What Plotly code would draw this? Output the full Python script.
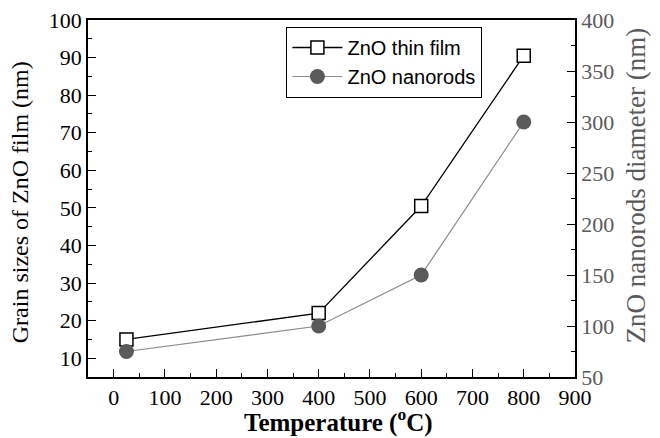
import plotly.graph_objects as go

temperature = [25, 400, 600, 800]
film_grain = [15, 22, 50.5, 90.5]
nanorod_diam = [75, 100, 150, 300]

x_ticks = [0, 100, 200, 300, 400, 500, 600, 700, 800, 900]
y_ticks = [10, 20, 30, 40, 50, 60, 70, 80, 90, 100]
y2_ticks = [50, 100, 150, 200, 250, 300, 350, 400]

gray = "#5a5a5a"
serif = "Liberation Serif, Times New Roman, serif"

fig = go.Figure()
fig.add_trace(go.Scatter(
    x=temperature, y=film_grain, name="ZnO thin film",
    mode="lines+markers",
    line=dict(color="black", width=1.3),
    marker=dict(symbol="square", size=13, color="white",
                line=dict(color="black", width=1.5)),
))
fig.add_trace(go.Scatter(
    x=temperature, y=nanorod_diam, name="ZnO nanorods", yaxis="y2",
    mode="lines+markers",
    line=dict(color="#8a8a8a", width=1.2),
    marker=dict(symbol="circle", size=15, color=gray,
                line=dict(color=gray, width=0)),
))

fig.add_annotation(
    text="<b>Temperature (<sup>o</sup>C)</b>",
    xref="paper", yref="paper", x=0.515, y=-0.123,
    xanchor="center", yanchor="middle", showarrow=False,
    font=dict(family=serif, size=25, color="black"),
)
fig.add_annotation(
    text="Grain sizes of ZnO film (nm)", textangle=-90,
    xref="paper", yref="paper", x=-0.138, y=0.489,
    xanchor="center", yanchor="middle", showarrow=False,
    font=dict(family=serif, size=24, color="black"),
)
fig.add_annotation(
    text="ZnO nanorods diameter (nm)", textangle=-90,
    xref="paper", yref="paper", x=1.125, y=0.536,
    xanchor="center", yanchor="middle", showarrow=False,
    font=dict(family=serif, size=27, color=gray),
)

fig.update_layout(
    width=660, height=438,
    margin=dict(l=88, r=85, t=20, b=61),
    paper_bgcolor="white", plot_bgcolor="white",
    showlegend=True,
    legend=dict(
        x=0.407, y=0.981, xanchor="left", yanchor="top",
        bordercolor="black", borderwidth=1.2, bgcolor="white",
        font=dict(family="Liberation Sans, Arial, sans-serif", size=20, color="black"),
        itemwidth=50, tracegroupgap=0,
    ),
    xaxis=dict(
        range=[-50, 900], tickvals=x_ticks,
        ticks="inside", ticklen=8, tickwidth=1.3, tickcolor="black",
        minor=dict(ticks="inside", dtick=50, ticklen=4, tickwidth=1.2, tickcolor="black"),
        showline=True, linecolor="black", linewidth=1.5, mirror=True,
        showgrid=False, zeroline=False, automargin=False,
        tickfont=dict(family=serif, size=22, color="black"),
    ),
    yaxis=dict(
        range=[5, 100], tickvals=y_ticks,
        ticks="inside", ticklen=8, tickwidth=1.3, tickcolor="black",
        minor=dict(ticks="inside", dtick=5, tick0=5, ticklen=4, tickwidth=1.2, tickcolor="black"),
        showline=True, linecolor="black", linewidth=1.5,
        showgrid=False, zeroline=False, automargin=False,
        tickfont=dict(family=serif, size=22, color="black"),
    ),
    yaxis2=dict(
        range=[50, 400], tickvals=y2_ticks, overlaying="y", side="right",
        ticks="inside", ticklen=8, tickwidth=1.3, tickcolor="black",
        minor=dict(ticks="inside", dtick=25, ticklen=4, tickwidth=1.2, tickcolor="black"),
        showline=True, linecolor="black", linewidth=1.5,
        showgrid=False, zeroline=False, automargin=False,
        tickfont=dict(family=serif, size=22, color=gray),
    ),
)

fig.write_html("out.html", config={"displayModeBar": False},
               post_script="document.body.style.margin='0';")
